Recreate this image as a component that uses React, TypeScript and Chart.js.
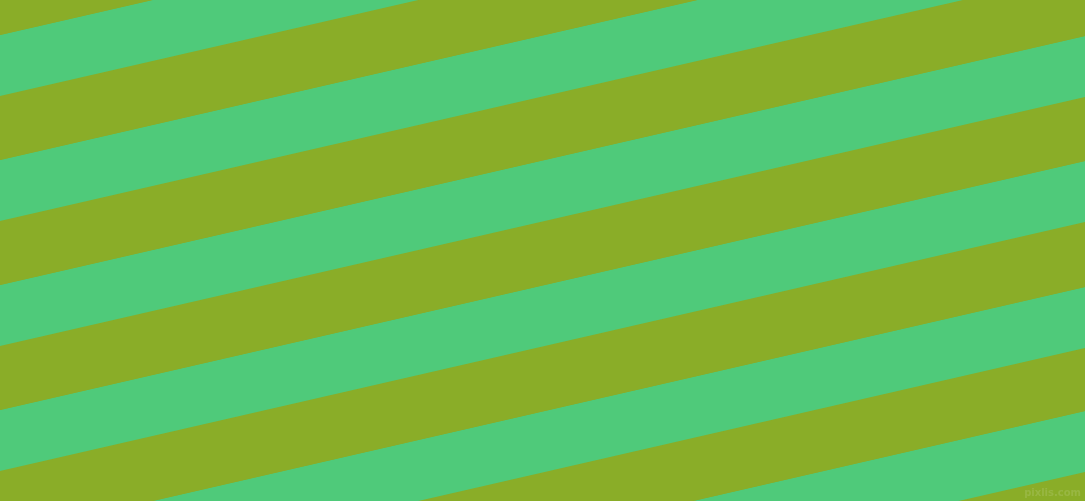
import { useEffect, useRef } from 'react';
import { Chart, ChartConfiguration, Plugin } from 'chart.js/auto';

// stripe boundaries: y at the left edge and at the right edge
const edgeX = [0, 1085];
const leftY = [-28, 35, 96, 160, 221, 285, 346, 410, 471, 536, 597, 660, 721, 785];
const rightY = [-277, -214, -153, -89, -28, 36, 97, 161, 222, 287, 348, 411, 472, 536];
const olive = '#8aad28';
const green = '#4fca7a';

const watermark: Plugin<'line'> = {
    id: 'watermark',
    afterDraw: (chart) => {
        const ctx = chart.ctx;
        ctx.save();
        ctx.font = 'bold 10px "DejaVu Sans", sans-serif';
        ctx.fillStyle = 'rgba(255, 255, 255, 0.12)';
        ctx.textAlign = 'right';
        ctx.textBaseline = 'alphabetic';
        ctx.fillText('pixlis.com', 1081, 496);
        ctx.restore();
    },
};

const StripeChart = () => {
    const chartRef = useRef<Chart<'line'> | null>(null);
    const canvasRef = useRef<HTMLCanvasElement | null>(null);

    useEffect(() => {
        document.body.style.margin = '0';
        if (!canvasRef.current) return;
        if (chartRef.current) chartRef.current.destroy();

        const ctx = canvasRef.current.getContext('2d');
        if (!ctx) return;

        const datasets = leftY.map((ly, i) => {
            // band between boundary i-1 and i: olive for odd i, green for even i
            const color = i % 2 === 1 || i === 0 ? olive : green;
            return {
                data: [
                    { x: edgeX[0], y: ly },
                    { x: edgeX[1], y: rightY[i] },
                ],
                borderWidth: 0,
                borderColor: color,
                backgroundColor: color,
                pointRadius: 0,
                fill: i === 0 ? false : '-1',
            };
        });

        const config: ChartConfiguration<'line', { x: number; y: number }[]> = {
            type: 'line',
            data: { datasets: datasets as any },
            options: {
                responsive: false,
                maintainAspectRatio: false,
                animation: false,
                layout: { padding: 0 },
                plugins: {
                    legend: { display: false },
                    tooltip: { enabled: false },
                    filler: { propagate: false },
                },
                elements: { line: { tension: 0 } },
                scales: {
                    x: { type: 'linear', min: 0, max: 1085, display: false },
                    y: { type: 'linear', min: 0, max: 501, reverse: true, display: false },
                },
            },
            plugins: [watermark],
        };

        chartRef.current = new Chart(ctx, config);

        return () => {
            if (chartRef.current) {
                chartRef.current.destroy();
                chartRef.current = null;
            }
        };
    }, []);

    return (
        <div style={{ width: 1085, height: 501, background: olive }}>
            <canvas ref={canvasRef} width="1085" height="501" style={{ display: 'block' }}></canvas>
        </div>
    );
};

export default function App() {
    return <StripeChart />;
}
